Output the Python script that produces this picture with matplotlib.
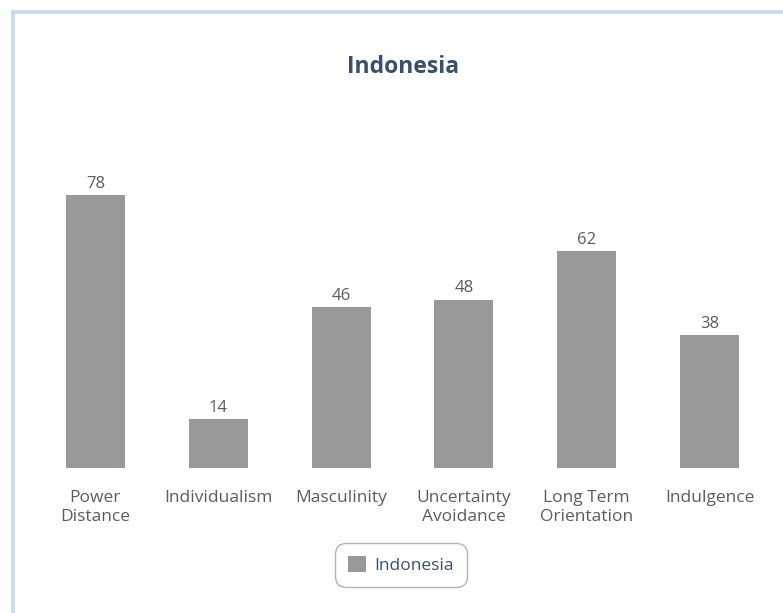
import matplotlib.pyplot as plt
from matplotlib.lines import Line2D

categories = ["Power\nDistance", "Individualism", "Masculinity",
              "Uncertainty\nAvoidance", "Long Term\nOrientation", "Indulgence"]
scores = [78, 14, 46, 48, 62, 38]
country = "Indonesia"

bar_color = "#9a989a"
label_color = "#5c5c5c"
title_color = "#3b5068"

plt.rcParams["font.family"] = ["Open Sans", "DejaVu Sans"]

fig = plt.figure(figsize=(7.83, 6.13), dpi=100)

# light blue frame on the left and top edges
fx, fy = 12.5 / 783, 1 - 12 / 613
fig.add_artist(Line2D([fx, fx], [0, fy], transform=fig.transFigure,
                      color="#c6d9f1", linewidth=2.6, solid_capstyle="projecting"))
fig.add_artist(Line2D([fx, 1], [fy, fy], transform=fig.transFigure,
                      color="#c6d9f1", linewidth=2.6, solid_capstyle="projecting"))

ax = fig.add_axes([34 / 783, (613 - 468) / 613, 737 / 783, 280 / 613])
x = range(len(categories))
bars = ax.bar(x, scores, width=0.48, color=bar_color, label=country)
ax.set_ylim(0, 80)
ax.set_xlim(-0.5, len(categories) - 0.5)

for b, v in zip(bars, scores):
    ax.text(b.get_x() + b.get_width() / 2, v + 1.0, str(v), ha="center", va="bottom",
            fontsize=12, color=label_color)

ax.set_xticks(list(x))
ax.set_xticklabels(categories, fontsize=12.5, color=label_color, linespacing=1.2)
ax.tick_params(axis="x", length=0, pad=16)
ax.set_yticks([])
for s in ax.spines.values():
    s.set_visible(False)

fig.text(403 / 783, 1 - 67 / 613, country, ha="center", va="center",
         fontsize=16.5, fontweight="bold", color=title_color)

leg = ax.legend(loc="center", bbox_to_anchor=(401 / 783, 1 - 565 / 613),
                bbox_transform=fig.transFigure, fontsize=12.5, frameon=True,
                handlelength=1.0, handleheight=1.0, handletextpad=0.5,
                borderpad=0.75, borderaxespad=0, fancybox=True)
leg.get_frame().set_edgecolor("#a0a0a0")
leg.get_frame().set_linewidth(1.0)
leg.get_frame().set_boxstyle("round", pad=0, rounding_size=0.6)
for t in leg.get_texts():
    t.set_color(title_color)

fig.savefig("out.png", dpi=100)
